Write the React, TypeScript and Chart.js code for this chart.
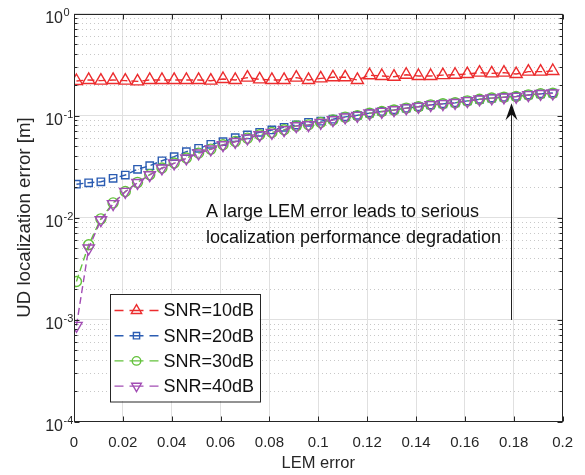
import React, { useEffect, useRef } from 'react';
import { Chart, registerables } from 'chart.js';

Chart.register(...registerables);

// ---------------- data ----------------
const lemError = [
  0.001, 0.006, 0.011, 0.016, 0.021, 0.026, 0.031, 0.036, 0.041, 0.046,
  0.051, 0.056, 0.061, 0.066, 0.071, 0.076, 0.081, 0.086, 0.091, 0.096,
  0.101, 0.106, 0.111, 0.116, 0.121, 0.126, 0.131, 0.136, 0.141, 0.146,
  0.151, 0.156, 0.161, 0.166, 0.171, 0.176, 0.181, 0.186, 0.191, 0.196,
];

const snr10 = [
  0.218, 0.223, 0.2195, 0.223, 0.2195, 0.216, 0.223, 0.223, 0.223, 0.223,
  0.223, 0.2195, 0.228, 0.223, 0.235, 0.226, 0.223, 0.223, 0.235, 0.223,
  0.231, 0.237, 0.237, 0.223, 0.248, 0.244, 0.24, 0.251, 0.244, 0.244,
  0.249, 0.251, 0.255, 0.263, 0.259, 0.263, 0.255, 0.269, 0.269, 0.273,
];

const snr20 = [
  0.0212, 0.0219, 0.0224, 0.0242, 0.0261, 0.0297, 0.0322, 0.036, 0.0395, 0.0442,
  0.0477, 0.0522, 0.0553, 0.0606, 0.0644, 0.0684, 0.0721, 0.0766, 0.0807, 0.0858,
  0.088, 0.092, 0.097, 0.1005, 0.1055, 0.1095, 0.1135, 0.118, 0.122, 0.127,
  0.13, 0.133, 0.139, 0.144, 0.148, 0.151, 0.154, 0.159, 0.163, 0.166,
];

const snr30 = [
  0.00236, 0.0054, 0.0097, 0.0139, 0.018, 0.0221, 0.0263, 0.0306, 0.0342, 0.0383,
  0.0428, 0.0468, 0.0516, 0.0556, 0.06, 0.0647, 0.0682, 0.0725, 0.0791, 0.081,
  0.0855, 0.0906, 0.0963, 0.0998, 0.1052, 0.1093, 0.1133, 0.1182, 0.1222, 0.1272,
  0.1302, 0.1333, 0.1392, 0.1442, 0.1482, 0.1512, 0.1533, 0.1592, 0.1632, 0.1652,
];

const snr40 = [
  0.00087, 0.00499, 0.00945, 0.0136, 0.0179, 0.0219, 0.0261, 0.0304, 0.034, 0.038,
  0.0426, 0.0466, 0.0514, 0.0553, 0.0597, 0.0644, 0.0679, 0.0721, 0.0789, 0.0807,
  0.085, 0.0903, 0.096, 0.0995, 0.105, 0.109, 0.113, 0.118, 0.122, 0.127,
  0.13, 0.133, 0.139, 0.144, 0.148, 0.151, 0.153, 0.159, 0.163, 0.165,
];

const seriesLabels = ['SNR=10dB', 'SNR=20dB', 'SNR=30dB', 'SNR=40dB'];
const xTicks = [0, 0.02, 0.04, 0.06, 0.08, 0.1, 0.12, 0.14, 0.16, 0.18, 0.2];
const yExponents = [-4, -3, -2, -1, 0];
const xTitle = 'LEM error';
const yTitle = 'UD localization error [m]';
const noteLines = ['A large LEM error leads to serious', 'localization performance degradation'];
const noteX = 0.054;
const noteY = [0.0114, 0.00625];
const arrowX = 0.179;
const arrowFrom = 0.00099;
const arrowTo = 0.132;

// ---------------- styles ----------------
const FONT = '"Liberation Sans", Arial, Helvetica, sans-serif';
const AXIS = '#262626';
const colors = ['#ec2c2e', '#2b5cb2', '#63c13b', '#a24db4'];
const pointStyles = ['triangle', 'rect', 'circle', 'triangle'];
const rotations = [0, 0, 0, 180];
const radii = [7, 5.2, 5, 6.6];

function drawMarker(ctx: CanvasRenderingContext2D, style: string, cx: number, cy: number, r: number, rot: number) {
  ctx.beginPath();
  if (style === 'triangle') {
    for (let k = 0; k < 3; k++) {
      const a = (rot * Math.PI) / 180 + (k * 2 * Math.PI) / 3;
      const px = cx + Math.sin(a) * r;
      const py = cy - Math.cos(a) * r;
      if (k === 0) ctx.moveTo(px, py);
      else ctx.lineTo(px, py);
    }
    ctx.closePath();
  } else if (style === 'rect') {
    const s = r * Math.SQRT1_2;
    ctx.rect(cx - s, cy - s, 2 * s, 2 * s);
  } else {
    ctx.arc(cx, cy, r, 0, Math.PI * 2);
  }
  ctx.stroke();
}

const isMajor = (v: number) => {
  const l = Math.log10(v);
  return Math.abs(l - Math.round(l)) < 1e-6;
};

const decorPlugin = {
  id: 'decor',
  beforeDatasetsDraw(chart: any) {
    const { ctx, chartArea: ca, scales } = chart;
    const y = scales.y;
    ctx.save();
    ctx.strokeStyle = '#c8c8c8';
    ctx.lineWidth = 1;
    ctx.setLineDash([1, 3]);
    for (let e = -4; e < 0; e++) {
      for (let k = 2; k <= 9; k++) {
        const py = Math.round(y.getPixelForValue(k * Math.pow(10, e))) + 0.5;
        ctx.beginPath();
        ctx.moveTo(ca.left, py);
        ctx.lineTo(ca.right, py);
        ctx.stroke();
      }
    }
    ctx.restore();
  },
  afterDatasetsDraw(chart: any) {
    const { ctx, chartArea: ca, scales } = chart;
    const x = scales.x;
    const y = scales.y;
    ctx.save();

    // annotation text
    ctx.fillStyle = '#111';
    ctx.font = `18px ${FONT}`;
    ctx.textAlign = 'left';
    ctx.textBaseline = 'middle';
    noteLines.forEach((t, i) => {
      ctx.fillText(t, x.getPixelForValue(noteX), y.getPixelForValue(noteY[i]));
    });

    // arrow
    const ax = Math.round(x.getPixelForValue(arrowX)) + 0.5;
    const y0 = y.getPixelForValue(arrowFrom);
    const y1 = y.getPixelForValue(arrowTo);
    ctx.strokeStyle = '#222';
    ctx.lineWidth = 1;
    ctx.beginPath();
    ctx.moveTo(ax, y0);
    ctx.lineTo(ax, y1 + 10);
    ctx.stroke();
    ctx.fillStyle = '#111';
    ctx.beginPath();
    ctx.moveTo(ax, y1);
    ctx.lineTo(ax - 6, y1 + 17);
    ctx.lineTo(ax, y1 + 11);
    ctx.lineTo(ax + 6, y1 + 17);
    ctx.closePath();
    ctx.fill();

    // box
    ctx.strokeStyle = AXIS;
    ctx.lineWidth = 1;
    const L = Math.round(ca.left) + 0.5;
    const R = Math.round(ca.right) - 0.5;
    const T = Math.round(ca.top) + 0.5;
    const B = Math.round(ca.bottom) - 0.5;
    ctx.strokeRect(L, T, R - L, B - T);

    // x tick marks (inward, top & bottom)
    ctx.beginPath();
    xTicks.forEach((v) => {
      const px = Math.round(x.getPixelForValue(v)) + 0.5;
      ctx.moveTo(px, B);
      ctx.lineTo(px, B - 5);
      ctx.moveTo(px, T);
      ctx.lineTo(px, T + 5);
    });
    // y tick marks (major + minor, inward, left & right)
    for (let e = -4; e <= 0; e++) {
      for (let k = 1; k <= 9; k++) {
        if (e === 0 && k > 1) break;
        const v = k * Math.pow(10, e);
        const py = Math.round(y.getPixelForValue(v)) + 0.5;
        const len = k === 1 ? 5 : 3;
        ctx.moveTo(L, py);
        ctx.lineTo(L + len, py);
        ctx.moveTo(R, py);
        ctx.lineTo(R - len, py);
      }
    }
    ctx.stroke();

    // y tick labels 10^n
    ctx.fillStyle = AXIS;
    yExponents.forEach((e) => {
      const py = y.getPixelForValue(Math.pow(10, e));
      ctx.font = `16px ${FONT}`;
      ctx.textAlign = 'right';
      ctx.textBaseline = 'middle';
      ctx.fillText('10', ca.left - 11, py + 5);
      ctx.font = `11px ${FONT}`;
      ctx.textAlign = 'left';
      ctx.fillText(String(e), ca.left - 10.5, py - 0.5);
    });

    // axis titles
    ctx.fillStyle = AXIS;
    ctx.font = `16.5px ${FONT}`;
    ctx.textAlign = 'center';
    ctx.textBaseline = 'middle';
    ctx.fillText(xTitle, (ca.left + ca.right) / 2, ca.bottom + 42);
    ctx.save();
    ctx.translate(ca.left - 49, (ca.top + ca.bottom) / 2);
    ctx.rotate(-Math.PI / 2);
    ctx.font = `18.7px ${FONT}`;
    ctx.fillText(yTitle, 0, 0);
    ctx.restore();

    // legend
    const lx = ca.left + 35.5;
    const ly = ca.top + 280;
    const lw = 150;
    const lh = 107.5;
    ctx.fillStyle = '#fff';
    ctx.fillRect(lx, ly, lw, lh);
    ctx.strokeStyle = AXIS;
    ctx.lineWidth = 1;
    ctx.strokeRect(Math.round(lx) + 0.5, Math.round(ly) + 0.5, lw, lh);
    seriesLabels.forEach((label, i) => {
      const cy = ly + 17 + i * 25.2;
      const c = colors[i];
      ctx.strokeStyle = c;
      ctx.lineWidth = 1.4;
      ctx.beginPath();
      ctx.moveTo(lx + 5, cy);
      ctx.lineTo(lx + 14, cy);
      ctx.moveTo(lx + 20, cy);
      ctx.lineTo(lx + 34, cy);
      ctx.moveTo(lx + 40, cy);
      ctx.lineTo(lx + 49, cy);
      ctx.stroke();
      drawMarker(ctx, pointStyles[i], lx + 27, cy, radii[i] * 0.85, rotations[i]);
      ctx.fillStyle = '#111';
      ctx.font = `18px ${FONT}`;
      ctx.textAlign = 'left';
      ctx.textBaseline = 'middle';
      ctx.fillText(label, lx + 54, cy + 1);
    });

    ctx.restore();
  },
};

export default function App() {
  const ref = useRef<HTMLCanvasElement>(null);

  useEffect(() => {
    document.body.style.margin = '0';
    const series = [snr10, snr20, snr30, snr40];
    const datasets = series.map((vals, i) => ({
      label: seriesLabels[i],
      data: lemError.map((xv, j) => ({ x: xv, y: vals[j] })),
      borderColor: colors[i],
      backgroundColor: 'rgba(0,0,0,0)',
      borderWidth: 1.4,
      borderDash: [7, 4],
      pointStyle: pointStyles[i],
      pointRotation: rotations[i],
      pointRadius: radii[i],
      pointBorderWidth: 1.4,
      pointBorderColor: colors[i],
      pointBackgroundColor: 'rgba(0,0,0,0)',
      tension: 0,
      fill: false,
      order: 4 - i,
    }));

    const chart = new Chart(ref.current as HTMLCanvasElement, {
      type: 'line',
      data: { datasets },
      options: {
        animation: false,
        responsive: false,
        devicePixelRatio: 1,
        layout: { padding: { left: 0, right: 18, top: 13.5, bottom: 0 } },
        plugins: { legend: { display: false }, tooltip: { enabled: false } },
        scales: {
          x: {
            type: 'linear',
            min: 0,
            max: 0.2,
            afterBuildTicks: (s: any) => {
              s.ticks = xTicks.map((v) => ({ value: v }));
            },
            afterFit: (s: any) => {
              s.height = 53.5;
            },
            ticks: {
              callback: (v: any) => String(Number(Number(v).toFixed(2))),
              font: { family: FONT, size: 15 },
              color: AXIS,
              padding: 12,
              maxRotation: 0,
              autoSkip: false,
            },
            grid: { color: '#e0e0e0', lineWidth: 1, drawTicks: false },
            border: { display: false },
          },
          y: {
            type: 'logarithmic',
            min: 1e-4,
            max: 1,
            afterFit: (s: any) => {
              s.width = 74;
            },
            ticks: { display: false },
            grid: {
              color: (c: any) => (c.tick && isMajor(c.tick.value) ? '#e0e0e0' : 'rgba(0,0,0,0)'),
              lineWidth: 1,
              drawTicks: false,
            },
            border: { display: false },
          },
        },
      },
      plugins: [decorPlugin],
    });
    return () => chart.destroy();
  }, []);

  return (
    <div style={{ width: 585, height: 475 }}>
      <canvas ref={ref} width={585} height={475} style={{ display: 'block', width: '585px', height: '475px' }} />
    </div>
  );
}
